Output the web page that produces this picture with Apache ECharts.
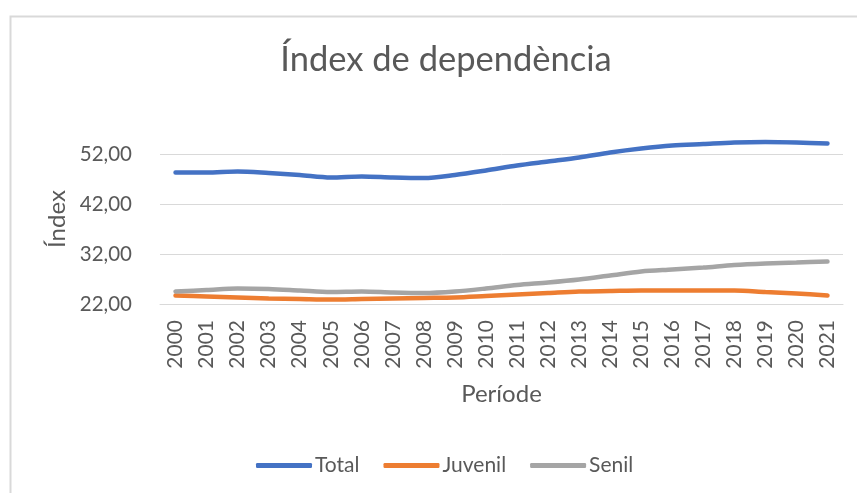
<!DOCTYPE html>
<html><head><meta charset="utf-8">
<script src="https://cdn.jsdelivr.net/npm/echarts@6/dist/echarts.min.js"></script>
<style>html,body{margin:0;padding:0;background:#fff}#c{width:857px;height:493px}</style>
</head><body><div id="c"></div>
<script>
const years = ['2000','2001','2002','2003','2004','2005','2006','2007','2008','2009','2010','2011','2012','2013','2014','2015','2016','2017','2018','2019','2020','2021'];
const total   = [48.3,48.3,48.5,48.2,47.8,47.3,47.5,47.3,47.2,47.8,48.7,49.7,50.5,51.3,52.3,53.1,53.7,54.0,54.3,54.4,54.3,54.1];
const juvenil = [23.7,23.5,23.3,23.1,23.0,22.9,23.0,23.1,23.2,23.3,23.6,23.9,24.2,24.5,24.6,24.7,24.7,24.7,24.7,24.4,24.1,23.7];
const senil   = [24.5,24.8,25.1,25.0,24.7,24.4,24.5,24.3,24.2,24.5,25.1,25.8,26.3,26.9,27.7,28.5,28.9,29.3,29.8,30.1,30.3,30.5];
const yTicks = {min:22, max:56, interval:10};
const FONT = 'Lato';
const chart = echarts.init(document.getElementById('c'));
const mk = (name, data, color) => ({
  name, type:'line', data, smooth:0.3, symbol:'none',
  lineStyle:{color, width:4.5, cap:'round'}, itemStyle:{color}
});
chart.setOption({
  animation:false,
  textStyle:{fontFamily:FONT},
  graphic:[{type:'rect', left:8, top:14, shape:{width:870, height:500}, style:{fill:'none', stroke:'#d9d9d9', lineWidth:2}}],
  title:{text:'Índex de dependència', left:441, textAlign:'center', top:37,
    textStyle:{fontFamily:FONT, fontSize:34.5, fontWeight:'normal', color:'#595959'}},
  legend:{top:450, left:251, itemWidth:56, itemHeight:5, itemGap:24,
    icon:'roundRect',
    textStyle:{fontFamily:FONT, fontSize:21, color:'#595959', padding:[0,0,0,-2]},
    data:['Total','Juvenil','Senil']},
  grid:{left:160, right:14, top:134, bottom:189, containLabel:false},
  xAxis:{type:'category', data:years, boundaryGap:true,
    name:'Període', nameLocation:'middle', nameGap:78,
    nameTextStyle:{fontFamily:FONT, fontSize:24, color:'#595959'},
    axisLine:{show:true, lineStyle:{color:'#d9d9d9'}}, axisTick:{show:false},
    axisLabel:{rotate:90, interval:0, margin:16, fontFamily:FONT, fontSize:21, color:'#595959'}},
  yAxis:{type:'value', min:yTicks.min, max:yTicks.max, interval:yTicks.interval,
    name:'Índex', nameLocation:'middle', nameGap:91, nameRotate:90,
    nameTextStyle:{fontFamily:FONT, fontSize:24, color:'#595959'},
    axisLine:{show:false}, axisTick:{show:false},
    axisLabel:{showMaxLabel:false, margin:28, fontFamily:FONT, fontSize:20.5, color:'#595959',
      formatter:v => v.toFixed(2).replace('.', ',')},
    splitLine:{showMaxLine:false, lineStyle:{color:'#d9d9d9', width:1}}},
  series:[mk('Total', total, '#4472C4'), mk('Juvenil', juvenil, '#ED7D31'), mk('Senil', senil, '#A5A5A5')]
});
</script></body></html>
